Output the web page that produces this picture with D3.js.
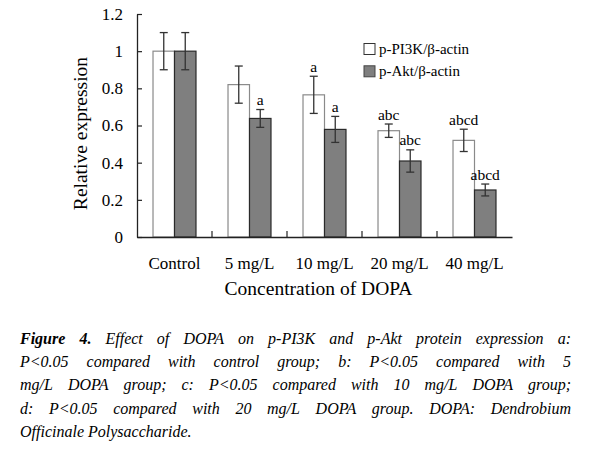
<!DOCTYPE html>
<html><head><meta charset="utf-8">
<script src="https://cdn.jsdelivr.net/npm/d3@7"></script>
<style>
#chart text, #chart tspan, html body svg#chart g text { font-family: "Liberation Serif" !important; }
</style>
</head>
<body style="margin:0;background:#fff">
<svg id="chart" width="590" height="457" style="font-family:'Liberation Serif'"></svg>
<script>
const categories = ["Control", "5 mg/L", "10 mg/L", "20 mg/L", "40 mg/L"];
const seriesNames = ["p-PI3K/\u03b2-actin", "p-Akt/\u03b2-actin"];
const pi3kValues = [1.0, 0.82, 0.765, 0.572, 0.52];
const pi3kErrors = [0.1, 0.1, 0.1, 0.036, 0.06];
const aktValues = [1.0, 0.638, 0.579, 0.409, 0.253];
const aktErrors = [0.1, 0.048, 0.07, 0.06, 0.032];
const pi3kSig = ["", "", "a", "abc", "abcd"];
const aktSig = ["", "a", "a", "abc", "abcd"];
const yTicks = [0, 0.2, 0.4, 0.6, 0.8, 1, 1.2];
const xTitle = "Concentration of DOPA";
const yTitle = "Relative expression";
const captionLines = [
  [["Figure 4.", true], ["Effect of DOPA on p-PI3K and p-Akt protein expression a:", false]],
  [["P<0.05 compared with control group; b: P<0.05 compared with 5", false]],
  [["mg/L DOPA group; c: P<0.05 compared with 10 mg/L DOPA group;", false]],
  [["d: P<0.05 compared with 20 mg/L DOPA group. DOPA: Dendrobium", false]],
  [["Officinale Polysaccharide.", false]]
];

(function () {
const FONT = '"Liberation Serif"';
const svg = d3.select("#chart");
const pL = 137, pR = 512, pT = 14, pB = 237;
const y = d3.scaleLinear().domain([0, 1.2]).range([pB, pT]);
const x0 = d3.scaleBand().domain(categories).range([pL, pR]).padding(0);
const x1 = d3.scaleBand().domain(seriesNames).range([0, x0.bandwidth()]).paddingInner(0).paddingOuter(0.745);

const series = [
  {name: seriesNames[0], values: pi3kValues, errors: pi3kErrors, sig: pi3kSig, fill: "#ffffff", stroke: "#8a8a8a"},
  {name: seriesNames[1], values: aktValues, errors: aktErrors, sig: aktSig, fill: "#7f7f7f", stroke: "#2a2a2a"}
];

function txt(sel, size) {
  return sel.attr("font-family", "Liberation Serif")
    .style("font-family", FONT, "important")
    .style("font-size", size + "px").attr("fill", "#000");
}

// bars
series.forEach(s => {
  const g = svg.append("g");
  g.selectAll("rect").data(categories).join("rect")
    .attr("x", c => x0(c) + x1(s.name))
    .attr("y", (c, i) => y(s.values[i]))
    .attr("width", x1.bandwidth())
    .attr("height", (c, i) => y(0) - y(s.values[i]))
    .attr("fill", s.fill)
    .attr("stroke", s.stroke)
    .attr("stroke-width", 1.2);
});

// error bars and significance
series.forEach(s => {
  const g = svg.append("g").attr("stroke", "#333").attr("stroke-width", 1.3);
  categories.forEach((c, i) => {
    const cx = x0(c) + x1(s.name) + x1.bandwidth() / 2;
    const hi = y(s.values[i] + s.errors[i]), lo = y(s.values[i] - s.errors[i]);
    g.append("line").attr("x1", cx).attr("x2", cx).attr("y1", hi).attr("y2", lo);
    g.append("line").attr("x1", cx - 4).attr("x2", cx + 4).attr("y1", hi).attr("y2", hi);
    g.append("line").attr("x1", cx - 4).attr("x2", cx + 4).attr("y1", lo).attr("y2", lo);
    if (s.sig[i]) {
      txt(svg.append("text").attr("x", cx).attr("y", hi - 4.5)
        .attr("text-anchor", "middle"), 15.5).text(s.sig[i]);
    }
  });
});

// y axis
const yAxis = d3.axisLeft(y).tickValues(yTicks).tickFormat(d => String(+d.toFixed(1))).tickSizeInner(-5).tickSizeOuter(0).tickPadding(14);
const ya = svg.append("g").attr("transform", `translate(${pL},0)`).call(yAxis);
ya.attr("font-family", "Liberation Serif");
ya.select(".domain").attr("stroke", "#222").attr("stroke-width", 1.3);
ya.selectAll(".tick line").attr("stroke", "#222").attr("stroke-width", 1.2);
txt(ya.selectAll(".tick text"), 17);

// x axis
const xAxis = d3.axisBottom(x0).tickSize(0).tickPadding(0);
const xa = svg.append("g").attr("transform", `translate(0,${pB})`).call(xAxis);
xa.attr("font-family", "Liberation Serif");
xa.select(".domain").attr("stroke", "#222").attr("stroke-width", 1.3);
txt(xa.selectAll(".tick text"), 17).attr("y", 32).attr("dy", 0);
// category separators (inward ticks)
const seps = categories.slice(1).map(c => x0(c));
svg.append("g").selectAll("line").data(seps).join("line")
  .attr("x1", d => d).attr("x2", d => d).attr("y1", pB).attr("y2", pB - 6)
  .attr("stroke", "#222").attr("stroke-width", 1.2);

// axis titles
txt(svg.append("text").attr("x", 318.5).attr("y", 295).attr("text-anchor", "middle"), 19.5).text(xTitle);
txt(svg.append("text").attr("transform", "translate(87,133.5) rotate(-90)").attr("text-anchor", "middle"), 19.5).text(yTitle);

// legend
const leg = svg.append("g");
series.forEach((s, i) => {
  const ly = 43.5 + i * 22.3;
  leg.append("rect").attr("x", 364).attr("y", ly).attr("width", 11).attr("height", 11)
    .attr("fill", s.fill).attr("stroke", i === 0 ? "#333" : "#444").attr("stroke-width", 1);
  txt(leg.append("text").attr("x", 379).attr("y", ly + 10), 15).text(s.name);
});

// caption, justified
const capLeft = 20, capRight = 571, capTop = 344, lineH = 23.2, capSize = 16;
captionLines.forEach((segs, li) => {
  const words = [];
  segs.forEach(([t0, bold]) => t0.split(" ").forEach(w => words.push({w, bold})));
  const t = txt(svg.append("text").attr("y", capTop + li * lineH), capSize).style("font-style", "italic");
  const spans = words.map(o => txt(t.append("tspan"), capSize).style("font-style", "italic").style("font-weight", o.bold ? "bold" : "normal").text(o.w));
  const widths = spans.map(sp => sp.node().getComputedTextLength());
  const total = d3.sum(widths);
  const last = li === captionLines.length - 1;
  const gap = last ? capSize * 0.25 : (capRight - capLeft - total) / (words.length - 1);
  let xx = capLeft;
  spans.forEach((sp, k) => { sp.attr("x", xx); xx += widths[k] + gap; });
});
})();
</script>
</body></html>
